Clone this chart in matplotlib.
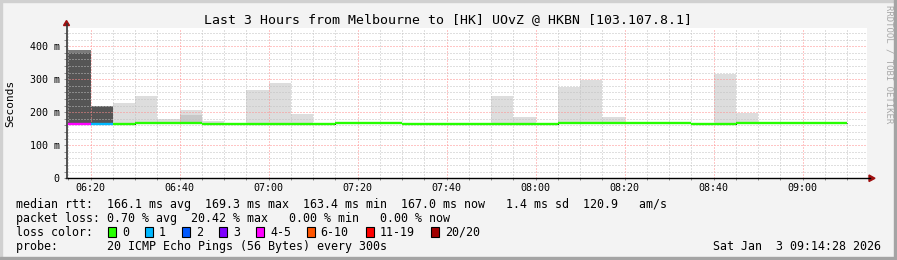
import matplotlib
matplotlib.use("Agg")
import matplotlib.pyplot as plt
import matplotlib.dates as mdates
from matplotlib.lines import Line2D
from matplotlib.patches import Rectangle, Polygon
from matplotlib.ticker import FixedLocator, MultipleLocator
import numpy as np
import pandas as pd

plt.rcParams['font.family'] = ['DejaVu Sans Mono']

nan = np.nan

# 5 minute steps, first one starts 06:15
step_edges = pd.date_range("2026-01-03 06:15", periods=36, freq="5min")
view_start = pd.Timestamp("2026-01-03 06:14:28")
view_end = pd.Timestamp("2026-01-03 09:14:28")

# median rtt per step (ms)
median_ms = [165, 165, 165, 168.5, 168.5, 168.5, 165, 165, 165, 165, 165, 165,
             168.5, 168.5, 168.5, 165, 165, 163.4, 166, 166, 166, 166,
             168.5, 168.5, 168.5, 168.5, 168.5, 168.5, 165, 165,
             168.5, 168.5, 168.5, 168.5, 168.5]
# lost pings per step (of 20)
lost = [4, 1, 0, 0, 0, 0, 0, 0, 0, 0, 0, 0, 0, 0, 0, 0, 0, 0,
        0, 0, 0, 0, 0, 0, 0, 0, 0, 0, 0, 0, 0, 0, 0, 0, 0]
# top of the smoke (slowest ping, ms)
max_ms = [390, 219, 229, 248, 180, 207, 174, nan, 267, 289, 194, nan,
          nan, nan, nan, nan, nan, nan, nan, 248, 186, nan, 276, 299,
          186, nan, nan, nan, nan, 316, 198, nan, nan, nan, nan]
# inner (denser) smoke band: step -> (top ms, gray)
inner_smoke = {0: (380, "#555555"), 1: (216, "#555555"), 5: (191, "#c8c8c8")}
outer_gray = {0: "#7a7a7a", 1: "#6c6c6c"}

loss_labels = ["0", "1", "2", "3", "4-5", "6-10", "11-19", "20/20"]
loss_upper = [0, 1, 2, 3, 5, 10, 19, 20]
loss_colors = ["#26ff00", "#00b8ff", "#0059ff", "#7e00ff",
               "#ff00ff", "#ff5500", "#ff0000", "#a10000"]

stats_rtt = "median rtt:  166.1 ms avg  169.3 ms max  163.4 ms min  167.0 ms now   1.4 ms sd  120.9   am/s"
stats_loss = "packet loss: 0.70 % avg  20.42 % max   0.00 % min   0.00 % now"
probe_txt = "probe:       20 ICMP Echo Pings (56 Bytes) every 300s"
stamp_txt = "Sat Jan  3 09:14:28 2026"
title_txt = "Last 3 Hours from Melbourne to [HK] UOvZ @ HKBN [103.107.8.1]"


def loss_color(n):
    for up, c in zip(loss_upper, loss_colors):
        if n <= up:
            return c
    return loss_colors[-1]


W, H = 897, 260
fig = plt.figure(figsize=(W / 100, H / 100), dpi=100, facecolor="#f3f3f3")


def fx(px):
    return px / W


def fy(py):
    return 1 - py / H


ax = fig.add_axes([fx(66), fy(178.3), fx(867) - fx(66), fy(27.8) - fy(178.3)])
ax.set_facecolor("white")

edges = mdates.date2num(step_edges.to_pydatetime())
left = edges[:-1]
width = edges[1] - edges[0]

# smoke
for i in range(len(median_ms)):
    if np.isnan(max_ms[i]):
        continue
    ax.bar(left[i], max_ms[i] - median_ms[i], width, bottom=median_ms[i],
           align="edge", color=outer_gray.get(i, "#dddddd"), linewidth=0, zorder=1)
    if i in inner_smoke:
        top, col = inner_smoke[i]
        ax.bar(left[i], top - median_ms[i], width, bottom=median_ms[i],
               align="edge", color=col, linewidth=0, zorder=1.1)

# median line
ax.stairs(median_ms, edges, baseline=None, color="black", linewidth=0.7, zorder=3)
ax.hlines(median_ms, left, left + width, colors=[loss_color(n) for n in lost],
          linewidth=1.7, zorder=3.1)

ax.set_xlim(mdates.date2num(view_start), mdates.date2num(view_end))
ax.set_ylim(0, 456)

ax.xaxis.set_major_locator(mdates.MinuteLocator(byminute=[0, 20, 40]))
ax.xaxis.set_minor_locator(mdates.MinuteLocator(byminute=range(0, 60, 5)))
ax.xaxis.set_major_formatter(mdates.DateFormatter("%H:%M"))
ax.yaxis.set_major_locator(FixedLocator([0, 100, 200, 300, 400]))
ax.set_yticklabels(["0", "100 m", "200 m", "300 m", "400 m"])
ax.yaxis.set_minor_locator(MultipleLocator(20))

ax.set_axisbelow(False)
ax.grid(which="minor", color="#c0c0c0", linestyle=(0, (1, 2)), linewidth=0.72)
ax.grid(which="major", color="#ff8c8c", linestyle=(0, (1, 2)), linewidth=0.72)

ax.tick_params(which="both", length=1.5, width=0.72, color="#909090", labelsize=7.2)
ax.tick_params(axis="y", pad=3)
ax.tick_params(axis="x", pad=2)
for s in ax.spines.values():
    s.set_visible(False)

# axis lines with arrows
fig.add_artist(Line2D([fx(66), fx(870)], [fy(178.3), fy(178.3)], color="black", lw=1.0))
fig.add_artist(Line2D([fx(66.5), fx(66.5)], [fy(178.3), fy(24)], color="#333333", lw=1.2))
fig.add_artist(Polygon([[fx(869), fy(175)], [fx(875), fy(178.3)], [fx(869), fy(181.5)]],
                       closed=True, color="#a01010", transform=fig.transFigure))
fig.add_artist(Polygon([[fx(63.5), fy(25.5)], [fx(66.5), fy(20.5)], [fx(69.5), fy(25.5)]],
                       closed=True, color="#a01010", transform=fig.transFigure))

fig.text(fx(10.5), fy(103), "Seconds", rotation=90, ha="center", va="center", fontsize=8)

fig.text(fx(447.5), fy(19.5), title_txt, ha="center", va="center", fontsize=9.5)
fig.text(fx(889), fy(5), "RRDTOOL / TOBI OETIKER", rotation=270, ha="center", va="top",
         fontsize=6.5, color="#a8a8a8")

# legend block
fs = 8.4
fig.text(fx(16), fy(204.3), stats_rtt, ha="left", va="center", fontsize=fs)
fig.text(fx(16), fy(218.3), stats_loss, ha="left", va="center", fontsize=fs)
fig.text(fx(16), fy(232.3), "loss color:", ha="left", va="center", fontsize=fs)
fig.text(fx(16), fy(246.3), probe_txt, ha="left", va="center", fontsize=fs)
fig.text(fx(881), fy(246.3), stamp_txt, ha="right", va="center", fontsize=fs)

box_x = [108.3, 145, 182.3, 219.3, 256.3, 306.7, 366, 431]
for bx, lab, col in zip(box_x, loss_labels, loss_colors):
    fig.add_artist(Rectangle((fx(bx), fy(236.5)), fx(8), fy(227) - fy(236.5),
                             facecolor=col, edgecolor="black", linewidth=0.8,
                             transform=fig.transFigure))
    fig.text(fx(bx + 14), fy(232.3), lab, ha="left", va="center", fontsize=fs)

# frame
fig.add_artist(Rectangle((0, fy(2)), 1, fy(0) - fy(2), color="#d0d0d0", transform=fig.transFigure))
fig.add_artist(Rectangle((0, 0), fx(2), 1, color="#d0d0d0", transform=fig.transFigure))
fig.add_artist(Rectangle((fx(893.5), 0), fx(3.5), 1, color="#a4a4a4", transform=fig.transFigure))
fig.add_artist(Rectangle((0, 0), 1, fy(256.5), color="#a4a4a4", transform=fig.transFigure))

fig.savefig("out.png", dpi=100, facecolor=fig.get_facecolor())
